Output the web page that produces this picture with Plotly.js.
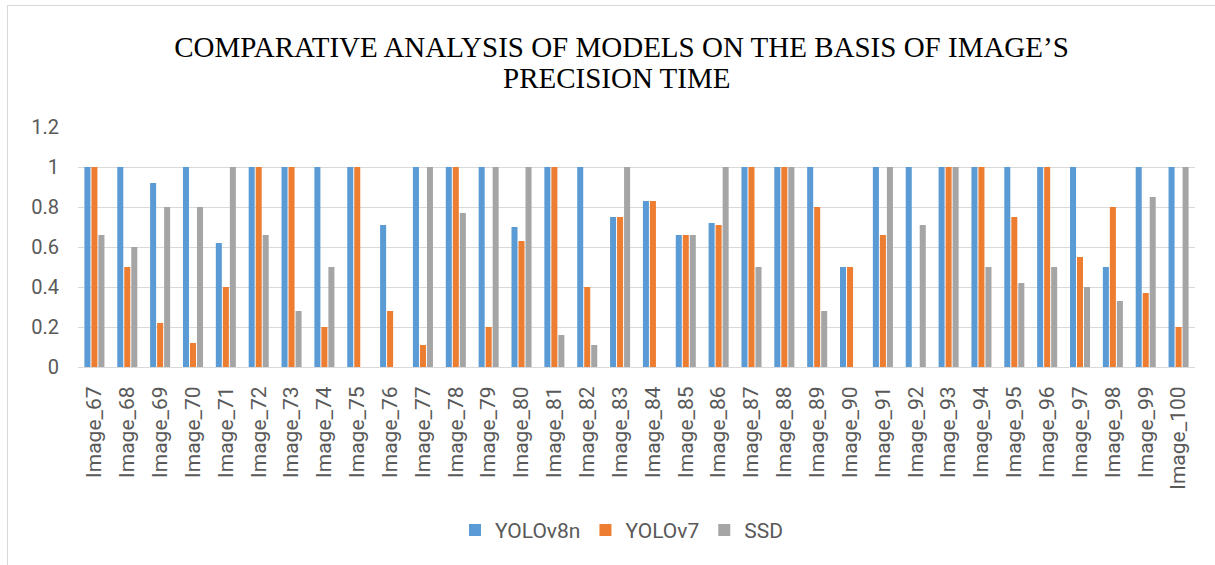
<!DOCTYPE html>
<html>
<head>
<meta charset="utf-8">
<script src="https://cdn.plot.ly/plotly-3.0.1.min.js"></script>
<style>
  html, body { margin: 0; padding: 0; background: #fff; }
  #wrap { position: relative; width: 1215px; height: 565px; }
  #frame { position: absolute; left: 7px; top: 5px; right: 0; bottom: 0;
           border-left: 1px solid #d9d9d9; border-top: 1px solid #d9d9d9; pointer-events: none; }
  #chart { position: absolute; left: 0; top: 0; width: 1215px; height: 565px; }
</style>
</head>
<body>
<div id="wrap">
  <div id="chart"></div>
  <div id="frame"></div>
</div>
<script>
const categories = ["Image_67","Image_68","Image_69","Image_70","Image_71","Image_72","Image_73","Image_74","Image_75","Image_76",
  "Image_77","Image_78","Image_79","Image_80","Image_81","Image_82","Image_83","Image_84","Image_85","Image_86",
  "Image_87","Image_88","Image_89","Image_90","Image_91","Image_92","Image_93","Image_94","Image_95","Image_96",
  "Image_97","Image_98","Image_99","Image_100"];

const yolov8n = [1, 1, 0.92, 1, 0.62, 1, 1, 1, 1, 0.71,
  1, 1, 1, 0.70, 1, 1, 0.75, 0.83, 0.66, 0.72,
  1, 1, 1, 0.5, 1, 1, 1, 1, 1, 1,
  1, 0.5, 1, 1];

const yolov7 = [1, 0.5, 0.22, 0.12, 0.4, 1, 1, 0.2, 1, 0.28,
  0.11, 1, 0.2, 0.63, 1, 0.4, 0.75, 0.83, 0.66, 0.71,
  1, 1, 0.8, 0.5, 0.66, 0, 1, 1, 0.75, 1,
  0.55, 0.8, 0.37, 0.2];

const ssd = [0.66, 0.6, 0.8, 0.8, 1, 0.66, 0.28, 0.5, 0, 0,
  1, 0.77, 1, 1, 0.16, 0.11, 1, 0, 0.66, 1,
  0.5, 1, 0.28, 0, 1, 0.71, 1, 0.5, 0.42, 0.5,
  0.4, 0.33, 0.85, 1];

const seriesNames = ["YOLOv8n", "YOLOv7", "SSD"];
const seriesColors = ["#5B9BD5", "#ED7D31", "#A5A5A5"];
const yTicks = [0, 0.2, 0.4, 0.6, 0.8, 1, 1.2];
const yTickText = ["0", "0.2", "0.4", "0.6", "0.8", "1", "1.2"];
const titleLine1 = "COMPARATIVE ANALYSIS OF MODELS ON THE BASIS OF IMAGE’S";
const titleLine2 = "PRECISION TIME";

const allSeries = [yolov8n, yolov7, ssd];
const data = allSeries.map((vals, i) => ({
  type: "bar",
  name: seriesNames[i],
  x: categories,
  y: vals,
  marker: { color: seriesColors[i] },
  hoverinfo: "x+y+name"
}));

const titleFont = { family: "'Liberation Serif', 'Times New Roman', serif", size: 29, color: "#000000" };

const layout = {
  width: 1215,
  height: 565,
  paper_bgcolor: "rgba(0,0,0,0)",
  plot_bgcolor: "#ffffff",
  margin: { l: 78, r: 20, t: 127, b: 198, pad: 0 },
  barmode: "group",
  bargap: 0.36,
  bargroupgap: 0.14,
  showlegend: true,
  title: {
    text: titleLine1,
    font: titleFont,
    x: 621.5 / 1215,
    xanchor: "center",
    xref: "container",
    y: 1 - 47 / 565,
    yref: "container",
    yanchor: "middle"
  },
  annotations: [{
    text: titleLine2,
    font: titleFont,
    xref: "paper", yref: "paper",
    x: (616 - 78) / 1117, y: (366.7 - 78) / 240,
    xanchor: "center", yanchor: "middle",
    showarrow: false
  }],
  xaxis: {
    type: "category",
    tickangle: -90,
    tickfont: { family: "Roboto, sans-serif", size: 21, color: "#595959" },
    showgrid: false,
    showline: true,
    linecolor: "#d9d9d9",
    linewidth: 1,
    ticks: "",
    ticklabelstandoff: 10,
    fixedrange: true
  },
  yaxis: {
    range: [0, 1.2],
    tickvals: yTicks,
    ticktext: yTickText,
    tickfont: { family: "Roboto, sans-serif", size: 20, color: "#595959" },
    showgrid: true,
    gridcolor: "#d9d9d9",
    gridwidth: 1,
    zeroline: true,
    zerolinecolor: "#d9d9d9",
    zerolinewidth: 1,
    showline: false,
    ticks: "",
    ticklabelstandoff: 18,
    fixedrange: true
  },
  legend: {
    orientation: "h",
    x: (621.5 - 78) / 1117,
    xanchor: "center",
    xref: "paper",
    y: (366.7 - 530) / 240,
    yanchor: "middle",
    font: { family: "Roboto, sans-serif", size: 21, color: "#595959" },
    itemwidth: 30,
    traceorder: "normal"
  }
};

Plotly.newPlot("chart", data, layout, { displayModeBar: false });
</script>
</body>
</html>
